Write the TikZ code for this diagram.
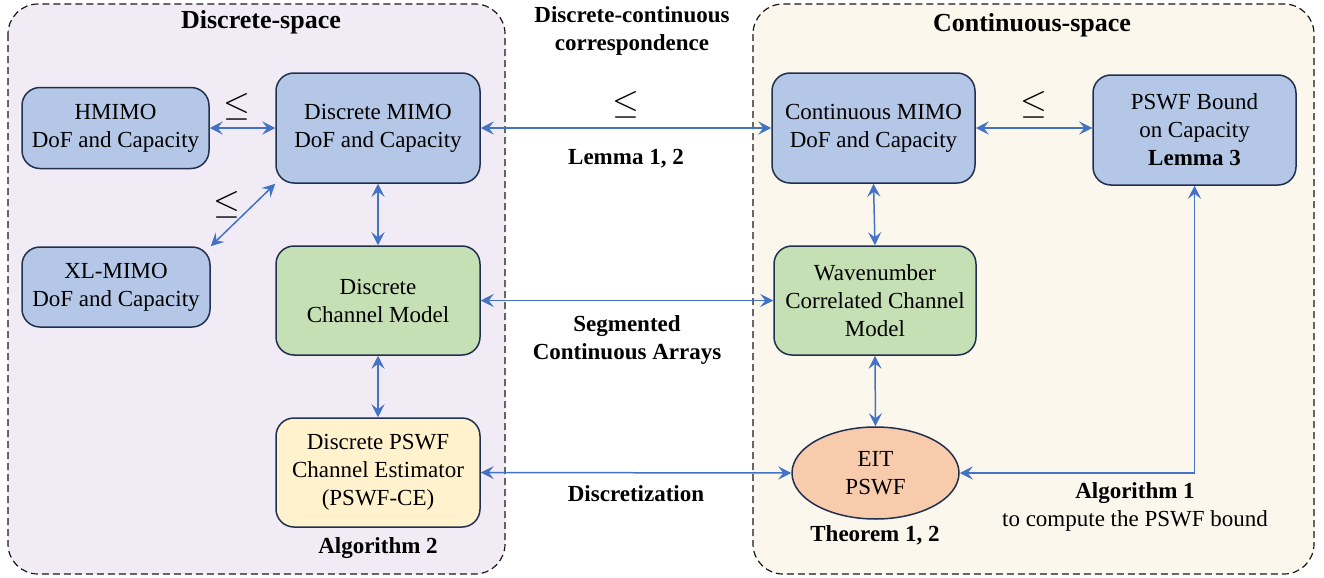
\documentclass[tikz,border=0pt]{standalone}
\usepackage{fontspec}
\setmainfont{Liberation Serif}
\usetikzlibrary{arrows.meta,shapes.geometric,calc}
\definecolor{leftbg}{HTML}{F1EBF6}
\definecolor{rightbg}{HTML}{FBF7EC}
\definecolor{bluebox}{HTML}{B4C7E7}
\definecolor{greenbox}{HTML}{C5E0B4}
\definecolor{yellowbox}{HTML}{FFF2CC}
\definecolor{salmon}{HTML}{F8CBAD}
\definecolor{edge}{HTML}{22304F}
\definecolor{arrowblue}{HTML}{4472C4}
\tikzset{
  container/.style={draw=black!90, dashed, dash pattern=on 3.5pt off 2pt, line width=0.6pt, rounded corners=15pt},
  box/.style={draw=edge, line width=0.75pt, rounded corners=9pt, align=center, inner sep=2pt,
    font=\fontsize{11.5}{14}\selectfont},
  bluenode/.style={box, fill=bluebox},
  greennode/.style={box, fill=greenbox},
  yellownode/.style={box, fill=yellowbox},
  eitnode/.style={ellipse, draw=edge, line width=0.75pt, fill=salmon, align=center, inner sep=0pt,
    minimum width=83.5pt, minimum height=46pt, font=\fontsize{11.5}{14}\selectfont},
  lbl/.style={align=center, font=\fontsize{11.5}{14}\selectfont},
  blbl/.style={align=center, font=\fontsize{11.5}{14}\selectfont\bfseries},
  title/.style={font=\fontsize{13}{15}\selectfont\bfseries},
  leq/.style={font=\fontsize{16}{18}\selectfont},
  arr/.style={draw=arrowblue, line width=0.75pt, {Stealth[length=6.5pt,width=6.5pt,inset=2.5pt]}-{Stealth[length=6.5pt,width=6.5pt,inset=2.5pt]}}
}
\begin{document}
\begin{tikzpicture}[x=0.5pt,y=-0.5pt]
\useasboundingbox (0,0) rectangle (1324,578);
% containers
\path[container, fill=leftbg] (8,4) rectangle (505,574);
\path[container, fill=rightbg] (753,4) rectangle (1314,574);
\node[title] (tleft) at (261,22) {Discrete-space};
\node[title] (tright) at (1032,25) {Continuous-space};
\node[blbl] (corr) at (632,31) {Discrete-continuous\\correspondence};
% left nodes
\node[bluenode, minimum width=93.5pt, minimum height=40.5pt] (hmimo) at (115.5,128) {HMIMO\\DoF and Capacity};
\node[bluenode, minimum width=102pt, minimum height=55pt] (dmimo) at (378,128) {Discrete MIMO\\DoF and Capacity};
\node[bluenode, minimum width=94pt, minimum height=40pt] (xl) at (116,287) {XL-MIMO\\DoF and Capacity};
\node[greennode, minimum width=102pt, minimum height=54.5pt] (dch) at (378,300.5) {Discrete\\Channel Model};
\node[yellownode, minimum width=102pt, minimum height=54.5pt] (ce) at (378,472.5) {Discrete PSWF\\Channel Estimator\\(PSWF-CE)};
\node[blbl] (alg2) at (378,548) {Algorithm 2};
% right nodes
\node[bluenode, minimum width=101.5pt, minimum height=55pt] (cmimo) at (873.5,128) {Continuous MIMO\\DoF and Capacity};
\node[bluenode, minimum width=101.5pt, minimum height=55pt] (bound) at (1194.5,130) {PSWF Bound\\on Capacity\\\textbf{Lemma 3}};
\node[greennode, minimum width=101pt, minimum height=54.5pt] (wave) at (875,300.5) {Wavenumber\\Correlated Channel\\Model};
\node[eitnode] (eit) at (875.5,473) {EIT\\PSWF};
\node[blbl] (thm) at (875,535) {Theorem 1, 2};
\node[lbl] (alg1) at (1135,507) {\textbf{Algorithm 1}\\to compute the PSWF bound};
% connectors
\draw[arr] (hmimo.east) -- (dmimo.west |- hmimo.east) node[midway, above=0pt, xshift=-3pt, leq] {$\leq$};
\draw[arr] (xl.north east) -- (dmimo.south west) node[midway, xshift=-8pt, yshift=5pt, leq] {$\leq$};
\draw[arr] (dmimo.south) -- (dch.north);
\draw[arr] (dch.south) -- (ce.north);
\draw[arr] (dmimo.east) -- (cmimo.west) node[midway, above=1pt, leq] {$\leq$} node[midway, below=7pt, blbl] {Lemma 1, 2};
\draw[arr] (dch.east) -- (wave.west) node[midway, below=4pt, blbl] {Segmented\\Continuous Arrays};
\draw[arr] (ce.east) -- (eit.west) node[midway, below=2.5pt, blbl] {Discretization};
\draw[arr] (cmimo.east) -- (bound.west |- cmimo.east) node[midway, above=1pt, leq] {$\leq$};
\draw[arr] (cmimo.south) -- (wave.north);
\draw[arr] (wave.south) -- (eit.north);
\draw[arr] (bound.south) |- (eit.east);
\end{tikzpicture}
\end{document}
